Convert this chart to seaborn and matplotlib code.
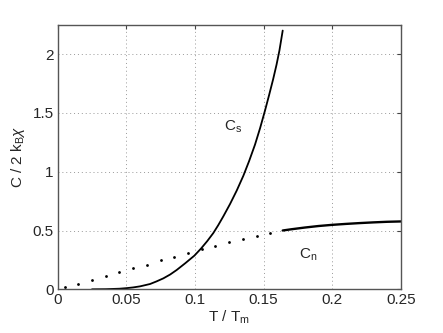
import matplotlib
matplotlib.use("Agg")
import matplotlib.pyplot as plt
import seaborn as sns
import pandas as pd

# Superconducting specific heat C_s (solid curve)
cs_T = [0.025, 0.035, 0.045, 0.0503, 0.055, 0.06, 0.0673, 0.072, 0.077, 0.082, 0.0867,
        0.093, 0.0996, 0.1045, 0.109, 0.1134, 0.117, 0.1207, 0.1256, 0.1305, 0.1353,
        0.1395, 0.1438, 0.1475, 0.1511, 0.154, 0.157, 0.1595, 0.1616, 0.164]
cs_C = [0.0, 0.001, 0.005, 0.01, 0.016, 0.025, 0.045, 0.067, 0.093, 0.126, 0.164,
        0.222, 0.286, 0.347, 0.41, 0.478, 0.545, 0.62, 0.725, 0.84, 0.965,
        1.09, 1.23, 1.37, 1.52, 1.648, 1.785, 1.91, 2.03, 2.2]
# Extrapolated normal-state (dotted markers)
dot_T = [0.005, 0.015, 0.025, 0.035, 0.045, 0.055, 0.065, 0.075, 0.085, 0.095,
         0.105, 0.115, 0.125, 0.135, 0.145, 0.155]
dot_C = [0.02, 0.045, 0.08, 0.11, 0.145, 0.18, 0.21, 0.245, 0.275, 0.305,
         0.343, 0.371, 0.40, 0.425, 0.45, 0.475]
# Normal-state C_n (solid, above transition)
cn_T = [0.164, 0.17, 0.18, 0.19, 0.2, 0.21, 0.22, 0.23, 0.24, 0.25]
cn_C = [0.50, 0.51, 0.525, 0.538, 0.548, 0.556, 0.563, 0.569, 0.574, 0.577]

x_ticks = [0, 0.05, 0.1, 0.15, 0.2, 0.25]
x_labels = ["0", "0.05", "0.1", "0.15", "0.2", "0.25"]
y_ticks = [0, 0.5, 1, 1.5, 2]
y_labels = ["0", "0.5", "1", "1.5", "2"]

sns.set_style("white")
plt.rcParams['font.family'] = ['Liberation Sans', 'DejaVu Sans']
plt.rcParams['mathtext.fontset'] = 'custom'
plt.rcParams['mathtext.rm'] = 'Liberation Sans'
plt.rcParams['mathtext.it'] = 'Liberation Sans:italic'

fig = plt.figure(figsize=(4.43, 3.33), dpi=100)
ax = fig.add_axes([57.7/443, 1 - 289.3/333, (400.7-57.7)/443, (289.3-24.7)/333])

df_s = pd.DataFrame({"T": cs_T, "C": cs_C})
df_n = pd.DataFrame({"T": cn_T, "C": cn_C})
df_d = pd.DataFrame({"T": dot_T, "C": dot_C})

sns.lineplot(data=df_s, x="T", y="C", ax=ax, color="black", lw=1.3, sort=True)
sns.lineplot(data=df_n, x="T", y="C", ax=ax, color="black", lw=1.7, sort=True)
sns.scatterplot(data=df_d, x="T", y="C", ax=ax, color="black", s=4, linewidth=0, zorder=3)

ax.set_xlim(0, 0.25)
ax.set_ylim(0, 2.25)
ax.set_xticks(x_ticks)
ax.set_xticklabels(x_labels)
ax.set_yticks(y_ticks)
ax.set_yticklabels(y_labels)
ax.grid(True, linestyle=(0, (1, 3)), color="#999999", linewidth=0.7)
ax.tick_params(direction="in", top=True, right=True, length=3, labelsize=11,
               color="#444444", pad=3)
for sp in ax.spines.values():
    sp.set_color("#555555")
    sp.set_linewidth(1.0)

ax.set_xlabel(r"T / T$_\mathrm{m}$", fontsize=11, labelpad=1)
ax.set_ylabel(r"C / 2 k$_\mathrm{B}$$\chi$", fontsize=11, labelpad=4)

ax.text(0.128, 1.38, r"C$_\mathrm{s}$", fontsize=11, ha="center", va="center")
ax.text(0.1826, 0.29, r"C$_\mathrm{n}$", fontsize=11, ha="center", va="center")

fig.savefig("out.png", dpi=100)
